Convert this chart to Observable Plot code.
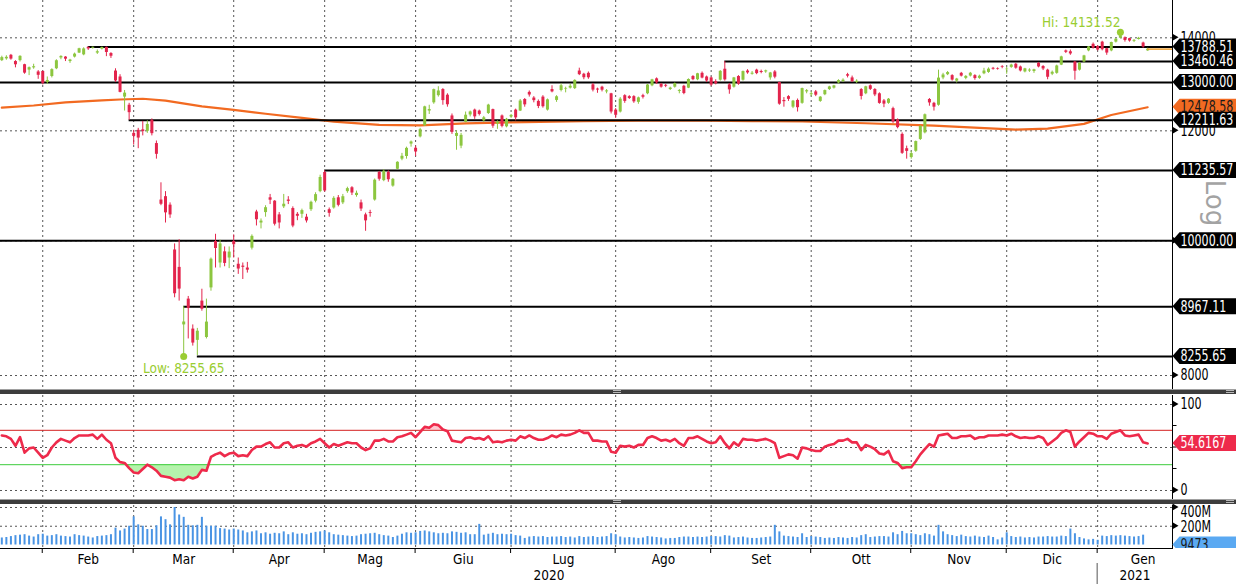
<!DOCTYPE html>
<html><head><meta charset="utf-8">
<script src="https://cdn.jsdelivr.net/npm/d3@7"></script>
<script src="https://cdn.jsdelivr.net/npm/@observablehq/plot@0.6"></script>
<style>
html,body{margin:0;padding:0;background:#fff;}
#chart{position:relative;width:1236px;height:584px;overflow:hidden;background:#fff;}
.panel{position:absolute;left:0;}
.sep{position:absolute;left:0;width:1236px;height:4px;background:#3d3d3d;border-top:1px solid #a0a0a0;}
.grip{position:absolute;width:8px;height:1px;background:#b8b8b8;}
</style></head><body>
<div id="chart">
 <div class="panel" id="main" style="top:0"></div>
 <div class="sep" style="top:389px"></div>
 <div class="panel" id="rsi" style="top:395px"></div>
 <div class="sep" style="top:499px"></div>
 <div class="panel" id="vol" style="top:505px"></div>
</div>
<script>
// ---------- DATA: daily candles [open, high, low, close] ----------
const jan20 = [[13480,13580,13460,13548],[13520,13590,13490,13555],[13600,13620,13490,13515],[13460,13480,13320,13388],[13480,13590,13450,13577],[13390,13400,13180,13204],[13270,13340,13150,13324],[13320,13400,13290,13345],[13230,13260,13070,13157],[13240,13250,12950,12982]];
const feb20 = [[13000,13120,12960,13045],[13130,13300,13100,13281],[13300,13500,13280,13478],[13540,13590,13500,13575],[13560,13570,13460,13513],[13460,13510,13420,13494],[13560,13650,13540,13627],[13650,13760,13640,13749],[13610,13770,13590,13745],[13780,13788.51,13710,13744],[13760,13786,13740,13783],[13650,13720,13620,13681],[13740,13785,13720,13778],[13780,13786,13570,13664],[13640,13660,13530,13579],[13250,13300,13000,13035],[13120,13170,12780,12790],[12690,12830,12400,12774],[12520,12560,12211.63,12367],[11950,12010,11720,11890]];
const mar20 = [[12010,12050,11650,11857],[12020,12190,11900,11985],[11990,12200,11950,12128],[12210,12240,11900,11944],[11750,11800,11450,11542],[10700,11010,10600,10625],[10760,10850,10300,10475],[10610,10650,10380,10439],[9850,9950,9100,9161],[9570,10020,9050,9232],[8700,8967.11,8255.65,8742],[9080,9120,8500,8939],[8640,8700,8400,8442],[8480,8650,8270,8610],[9050,9230,8900,8929],[8520,9080,8500,8741],[9250,9720,9200,9701],[9990,10110,9560,9874],[9640,10010,9560,9950],[9820,9900,9580,9633],[9720,9900,9550,9816],[9990,10100,9720,9936]];
const apr20 = [[9620,9720,9460,9544],[9590,9640,9380,9571],[9560,9650,9480,9526],[9880,10100,9850,10075],[10490,10520,10250,10356],[10300,10370,10200,10333],[10480,10600,10400,10565],[10740,10800,10620,10697],[10680,10690,10250,10280],[10440,10480,10200,10301],[10580,10800,10550,10626],[10700,10760,10620,10676],[10550,10580,10220,10249],[10450,10480,10340,10416],[10450,10540,10380,10514],[10400,10450,10300,10336],[10530,10680,10500,10660],[10680,10830,10650,10796],[10850,11150,10830,11108],[11200,11235.57,10840,10862]];
const may20 = [[10530,10560,10400,10467],[10560,10760,10540,10730],[10740,10780,10580,10607],[10650,10800,10620,10759],[10850,10930,10820,10904],[10920,10940,10780,10825],[10780,10860,10750,10820],[10650,10700,10500,10542],[10440,10470,10160,10337],[10480,10520,10400,10465],[10700,11080,10680,11058],[11200,11220,11040,11075],[11050,11250,11030,11223],[11200,11230,11020,11066],[10950,11090,10930,11074],[11260,11400,11250,11391],[11450,11560,11420,11505],[11500,11680,11450,11657],[11740,11800,11680,11781],[11660,11700,11500,11587]];
const jun20 = [[11880,12050,11860,12022],[12100,12500,12090,12487],[12400,12520,12330,12431],[12570,12860,12540,12848],[12720,12910,12690,12820],[12850,12870,12520,12617],[12730,12760,12480,12530],[12300,12340,11930,11970],[11890,12000,11620,11949],[11700,11950,11650,11911],[12170,12380,12160,12315],[12320,12400,12280,12382],[12420,12440,12230,12281],[12400,12420,12300,12331],[12200,12290,12170,12262],[12350,12540,12330,12523],[12430,12440,12050,12093],[12140,12200,12030,12177],[12300,12320,12060,12089],[12080,12250,12060,12232],[12280,12330,12250,12311]];
const jul20 = [[12420,12440,12200,12260],[12400,12640,12390,12608],[12640,12660,12480,12528],[12790,12820,12690,12734],[12670,12700,12570,12616],[12600,12630,12450,12495],[12690,12720,12460,12489],[12420,12650,12400,12633],[12850,12930,12780,12800],[12620,12720,12580,12697],[12830,12970,12800,12931],[12860,12900,12780,12874],[12880,12960,12860,12920],[12870,13060,12850,13046],[13250,13313,13150,13171],[13180,13200,13060,13104],[13200,13230,13070,13103],[12950,12980,12800,12838],[12860,12880,12770,12839],[12900,12920,12800,12836],[12800,12850,12760,12822],[12760,12770,12340,12380],[12420,12450,12250,12313]];
const aug20 = [[12380,12680,12360,12647],[12720,12740,12560,12600],[12700,12720,12640,12660],[12700,12720,12560,12591],[12580,12690,12540,12674],[12720,12750,12650,12687],[12760,12960,12740,12947],[12930,13070,12910,13058],[13080,13100,12960,12993],[12960,12980,12880,12901],[12940,12960,12890,12920],[12850,12900,12830,12881],[12900,12990,12880,12977],[12810,12850,12760,12830],[12920,12940,12740,12765],[12880,13080,12870,13066],[13130,13150,13040,13062],[13060,13200,13040,13190],[13200,13230,13080,13097],[13120,13140,13000,13033],[13100,13120,12920,12945]];
const sep20 = [[13020,13060,12950,12974],[13050,13260,13030,13243],[13290,13460.46,13030,13057],[12950,12980,12750,12843],[12900,13110,12880,13100],[13130,13150,12940,12968],[13050,13250,13030,13238],[13250,13280,13180,13209],[13180,13240,13160,13203],[13270,13290,13170,13194],[13240,13270,13190,13218],[13230,13270,13200,13255],[13100,13220,13050,13208],[13230,13260,13080,13116],[13000,13010,12520,12542],[12620,12680,12480,12594],[12700,12720,12600,12643],[12480,12620,12450,12606],[12620,12650,12380,12469],[12560,12880,12540,12871],[12800,12850,12760,12826],[12740,12800,12700,12761]];
const oct20 = [[12800,12830,12700,12730],[12600,12700,12580,12689],[12740,12840,12720,12828],[12850,12920,12830,12906],[12880,12940,12860,12928],[12990,13060,12970,13042],[13020,13080,13000,13051],[13170,13200,13100,13138],[13100,13140,13000,13018],[13000,13060,12980,13028],[12850,12870,12630,12704],[12760,12920,12740,12909],[12930,12950,12830,12854],[12850,12870,12700,12736],[12760,12780,12540,12558],[12610,12640,12470,12543],[12560,12660,12540,12646],[12450,12480,12150,12178],[12220,12240,12040,12064],[11930,11960,11540,11561],[11650,11700,11450,11598],[11480,11600,11450,11556]];
const nov20 = [[11600,11800,11580,11789],[11830,12100,11810,12089],[11960,12340,11940,12324],[12640,12660,12500,12568],[12560,12580,12400,12480],[12520,13270,12500,13096],[13100,13200,13060,13164],[13170,13240,13150,13217],[13150,13170,13030,13053],[13030,13090,12990,13076],[13200,13220,13120,13139],[13090,13150,13060,13133],[13140,13220,13120,13202],[13150,13170,13050,13086],[13090,13160,13070,13137],[13190,13310,13170,13250],[13220,13320,13200,13292],[13310,13330,13270,13290],[13300,13320,13270,13286],[13350,13370,13300,13335],[13280,13330,13180,13291]];
const dec20 = [[13330,13400,13310,13382],[13400,13420,13290,13313],[13340,13360,13230,13252],[13230,13310,13210,13299],[13250,13300,13220,13271],[13240,13290,13200,13278],[13420,13440,13320,13340],[13350,13370,13260,13296],[13270,13290,13060,13114],[13180,13250,13150,13223],[13200,13380,13180,13362],[13380,13580,13370,13565],[13700,13720,13640,13667],[13680,13720,13600,13631],[13450,13460,13050,13246],[13270,13440,13250,13418],[13450,13600,13430,13587],[13700,13800,13680,13790],[13850,13880,13740,13761],[13800,13820,13700,13719]];
const jan21 = [[13900,13920,13700,13726],[13750,13760,13600,13651],[13700,13900,13680,13892],[13900,13980,13880,13968],[13990,14131.52,13980,14050],[14000,14020,13900,13937],[13980,13990,13900,13925],[13920,13960,13890,13940],[13960,14010,13950,13989],[13880,13900,13760,13788],[13700,13760,13690,13740]];

// month names (Italian) for Feb 2020 .. Jan 2021
const monthNames = ["Feb","Mar","Apr","Mag","Giu","Lug","Ago","Set","Ott","Nov","Dic","Gen"];
const yearNames = ["2020","2021"];

// moving average (orange) [trading-day index, value]
const maPoints = [[0,12470],[7,12515],[14,12580],[22,12620],[26,12640],[31,12655],[36,12615],[44,12495],[51,12425],[58,12345],[66,12260],[73,12185],[83,12120],[92,12108],[102,12150],[115,12175],[128,12195],[140,12205],[155,12205],[165,12195],[176,12187],[190,12152],[205,12106],[215,12060],[223,12026],[230,12045],[238,12140],[244,12320],[252,12478.58]];

// horizontal support / resistance levels and the day index they start from (null = whole width)
const levelValues = [13788.51, 13460.46, 13000.00, 12211.63, 11235.57, 10000.00, 8967.11, 8255.65];
const levelStart  = [19, 159, null, 28, 71, null, 40, 43];
const priceTicks = [8000, 10000, 12000, 14000];

// RSI (14) daily
const rsi = [
 64,63,60,52,62,44,49,50,44,38,
 41,50,56,60,58,56,61,64,64,64,65,60,65,59,55,38,33,32,26,21,
 20,25,30,27,23,17,16,15,12,13,12,16,14,16,24,23,39,42,44,40,43,44,
 40,41,40,47,51,51,54,56,50,50,55,56,50,52,53,51,55,57,60,55,
 50,54,52,54,56,55,55,50,47,49,58,58,60,57,57,62,63,65,67,62,
 68,74,73,77,76,71,69,58,57,56,61,62,60,61,59,63,56,57,56,58,59,
 58,63,61,64,61,59,59,61,64,62,65,64,65,67,70,67,67,58,58,57,57,45,44,
 52,51,52,50,53,53,61,63,61,58,59,57,60,55,52,61,61,63,60,57,55,
 56,63,55,49,56,52,60,59,59,58,59,60,58,55,38,40,42,41,37,50,49,47,
 46,46,51,53,54,58,58,60,56,56,47,53,51,48,43,42,46,34,32,26,27,27,
 34,42,48,54,51,64,65,66,61,61,63,63,64,60,62,62,64,64,64,65,64,
 66,63,61,62,61,61,63,61,53,57,61,67,70,68,51,57,62,67,66,63,
 63,60,66,68,70,64,63,64,65,56,54.6167];
const rsiTicks = [0, 50, 100];
const rsiBands = [70, 30];

// volume (millions of shares) daily
const volume = [
 75,80,90,100,105,110,95,85,110,115,
 95,100,110,95,90,85,110,100,95,85,75,90,95,100,110,180,150,170,200,300,
 215,200,165,165,205,300,270,215,400,320,295,210,205,210,295,200,200,200,175,170,160,170,
 160,150,130,140,150,120,130,115,125,120,140,110,130,115,120,110,125,135,140,150,
 130,110,105,100,95,90,95,110,115,120,125,110,100,95,80,95,115,130,125,130,
 145,150,140,130,120,125,120,140,135,125,130,110,110,220,105,115,125,110,115,110,115,
 100,95,70,85,90,85,90,80,85,85,90,80,85,75,90,80,85,90,80,85,90,120,110,
 85,75,80,75,70,75,90,85,80,75,65,70,70,80,85,85,80,85,80,85,90,
 90,85,100,95,75,80,85,75,70,70,75,80,85,210,140,95,90,85,80,120,80,90,
 85,80,70,75,70,80,75,70,80,75,100,110,80,85,90,90,85,130,110,145,120,120,
 110,100,120,110,95,210,140,110,100,90,105,90,85,95,85,80,95,80,55,75,130,
 90,80,85,75,80,75,85,85,90,85,85,95,90,170,120,80,65,55,60,50,
 95,90,100,95,100,95,90,85,90,105,0.009473];
const volTicks = [200, 400];
const lastVolumeLabel = "9473";

// ---------- BUILD ----------
const FONT = '"DejaVu Sans Condensed","Liberation Sans Narrow",sans-serif';
const GREEN = "#8cc63f", RED = "#e3244c", GRID = "#555", ORANGE = "#f26a21";
const blocks = [jan20,feb20,mar20,apr20,may20,jun20,jul20,aug20,sep20,oct20,nov20,dec20,jan21];
const candles = blocks.flat().map(([o,h,l,c], i) => ({i, o, h, l, c, up: c >= o}));
let acc = 0;
const starts = blocks.map(b => { const s = acc; acc += b.length; return s; });
const gridIdx = starts.slice(1).map(s => s - 1);
const xDom = [-0.29, 257.46];
const labelData = gridIdx.map((g, k) => ({x: k < gridIdx.length - 1 ? (g + gridIdx[k+1]) / 2 : g + 10, t: monthNames[k]}));
const yearBreak = gridIdx[gridIdx.length - 1];
const yearData = [{x: (xDom[0] + yearBreak) / 2, t: yearNames[0]}, {x: (yearBreak + xDom[1]) / 2, t: yearNames[1]}];
const levels = levelValues.map((v, k) => ({v, from: levelStart[k] == null ? xDom[0] : levelStart[k]}));
const last = candles[candles.length - 1];
const hiC = candles.reduce((a, b) => b.h > a.h ? b : a);
const loC = candles.reduce((a, b) => b.l < a.l ? b : a);
const rsiData = rsi.map((v, i) => ({i, v}));
const volData = volume.map((v, i) => ({i, v}));
const dashed = {stroke: GRID, strokeDasharray: "2,3", strokeWidth: 1};
const base = {width: 1236, marginLeft: 0, marginRight: 64, marginTop: 0,
  style: {fontFamily: FONT, fontSize: "14px", color: "#000", background: "transparent", overflow: "visible"}};
const xOpt = {type: "linear", domain: xDom, axis: null};

const mainPlot = Plot.plot({...base, height: 390, marginBottom: 0,
  x: xOpt,
  y: {type: "log", domain: [7804, 14893], axis: null},
  marks: [
    Plot.ruleX(gridIdx, dashed),
    Plot.ruleY(priceTicks, dashed),
    Plot.line(maPoints, {x: d => d[0], y: d => d[1], stroke: ORANGE, strokeWidth: 2.2}),
    Plot.ruleY(levels, {y: "v", x1: "from", x2: xDom[1], stroke: "#000", strokeWidth: 2}),
    Plot.ruleX(candles.filter(d => d.up), {x: "i", y1: "l", y2: "h", stroke: GREEN, strokeWidth: 1}),
    Plot.ruleX(candles.filter(d => !d.up), {x: "i", y1: "l", y2: "h", stroke: RED, strokeWidth: 1}),
    Plot.ruleX(candles.filter(d => d.up), {x: "i", y1: "o", y2: "c", stroke: GREEN, strokeWidth: 3}),
    Plot.ruleX(candles.filter(d => !d.up), {x: "i", y1: "o", y2: "c", stroke: RED, strokeWidth: 3}),
    Plot.ruleY([last], {y: "c", x1: "i", x2: xDom[1], stroke: "#f0a030", strokeWidth: 1.5}),
    Plot.dot([hiC], {x: "i", y: "h", r: 3.5, fill: "#9acd32"}),
    Plot.dot([loC], {x: "i", y: "l", r: 3.5, fill: "#9acd32"}),
    Plot.text([hiC], {x: "i", y: "h", text: d => "Hi: " + d.h.toFixed(2), textAnchor: "end", dy: -10, fill: "#9acd32", fontSize: 13.5}),
    Plot.text([loC], {x: "i", y: "l", text: d => "Low: " + d.l.toFixed(2), dy: 12, fill: "#9acd32", fontSize: 13.5}),
    Plot.frame({anchor: "right", stroke: "#000"})
  ]
});
document.getElementById("main").appendChild(mainPlot);

const rsiPlot = Plot.plot({...base, height: 104, marginBottom: 0,
  x: xOpt,
  y: {domain: [-10.47, 110.47], axis: null},
  marks: [
    Plot.ruleX(gridIdx, dashed),
    Plot.ruleY(rsiTicks, dashed),
    Plot.areaY(rsiData, {x: "i", y1: rsiBands[1], y2: d => Math.min(d.v, rsiBands[1]), fill: "#b5f3ac"}),
    Plot.areaY(rsiData, {x: "i", y1: rsiBands[0], y2: d => Math.max(d.v, rsiBands[0]), fill: "#ffc6cf"}),
    Plot.ruleY([rsiBands[0]], {stroke: "#d42020", strokeWidth: 1}),
    Plot.ruleY([rsiBands[1]], {stroke: "#3ccc3c", strokeWidth: 1}),
    Plot.line(rsiData, {x: "i", y: "v", stroke: "#ee2a4b", strokeWidth: 2.6}),
    Plot.frame({anchor: "right", stroke: "#000"})
  ]
});
document.getElementById("rsi").appendChild(rsiPlot);

const volPlot = Plot.plot({...base, height: 79, marginBottom: 36,
  x: xOpt,
  y: {domain: [-37.3, 421.3], axis: null},
  marks: [
    Plot.ruleX(gridIdx, dashed),
    Plot.ruleY(volTicks, dashed),
    Plot.ruleX(volData, {x: "i", y1: 0, y2: "v", stroke: "#4a94e4", strokeWidth: 2}),
    Plot.frame({anchor: "right", stroke: "#000"}),
    Plot.frame({anchor: "bottom", stroke: "#000"}),
    Plot.text(labelData, {x: "x", text: "t", frameAnchor: "bottom", lineAnchor: "middle", dy: 11, fontSize: 13.5}),
    Plot.text(yearData, {x: "x", text: "t", frameAnchor: "bottom", lineAnchor: "middle", dy: 27, fontSize: 13.5})
  ]
});
document.getElementById("vol").appendChild(volPlot);

// ---------- right-hand tags and ticks (positions from the plots' own scales) ----------
const X0 = 1172.5, XR = 1236, SQ = 0.82;
function arrowTick(svg, cy) {
  svg.append("polygon").attr("points", `${X0},${cy-3.5} ${X0+6},${cy} ${X0},${cy+3.5}`).attr("fill", "#000");
}
function narrowText(svg, x, cy, t, fill, size) {
  svg.append("text").attr("transform", `translate(${x},${cy}) scale(${SQ},1)`).attr("dy", "0.36em")
    .attr("fill", fill).attr("text-anchor", "start").attr("font-family", FONT).attr("font-size", size).text(t);
}
function tickLabel(svg, cy, t) { narrowText(svg, X0 + 8, cy, t, "#000", 15); }
function tag(svg, cy, t, bg, fg) {
  const h = 8;
  svg.append("polygon").attr("points", `${X0},${cy} ${X0+7},${cy-h} ${XR},${cy-h} ${XR},${cy+h} ${X0+7},${cy+h}`).attr("fill", bg);
  narrowText(svg, X0 + 8, cy, t, fg, 15);
}

{
  const svg = d3.select(mainPlot), y = mainPlot.scale("y");
  for (const v of priceTicks) {
    arrowTick(svg, y.apply(v));
    // a tick value that coincides with a level tag is fully covered by it, so only its arrow is drawn
    if (!levelValues.includes(v)) tickLabel(svg, y.apply(v), String(v));
  }
  svg.append("text").attr("transform", `translate(1206,203) rotate(90)`).attr("text-anchor", "middle")
    .attr("font-family", "DejaVu Sans, sans-serif").attr("font-size", 26).attr("fill", "#a3a3a3").text("Log");
  tag(svg, y.apply(maPoints[maPoints.length - 1][1]), maPoints[maPoints.length - 1][1].toFixed(2), ORANGE, "#1a1a1a");
  for (const l of levels) tag(svg, y.apply(l.v), l.v.toFixed(2), "#000", "#fff");
}
{
  const svg = d3.select(rsiPlot), y = rsiPlot.scale("y");
  for (const v of [25, 50, 75]) svg.append("line").attr("x1", X0).attr("x2", X0 + 4).attr("y1", y.apply(v)).attr("y2", y.apply(v)).attr("stroke", "#000");
  for (const v of [0, 100]) { arrowTick(svg, y.apply(v)); tickLabel(svg, y.apply(v), String(v)); }
  tag(svg, y.apply(rsi[rsi.length - 1]), rsi[rsi.length - 1].toFixed(4), "#ee2a4b", "#fff");
}
{
  const svg = d3.select(volPlot), y = volPlot.scale("y"), x = volPlot.scale("x");
  for (const v of volTicks) arrowTick(svg, y.apply(v));
  tickLabel(svg, y.apply(volTicks[1]) + 5, volTicks[1] + "M");
  tickLabel(svg, y.apply(volTicks[0]) + 1, volTicks[0] + "M");
  svg.append("clipPath").attr("id", "vclip").append("rect").attr("x", 0).attr("y", 0).attr("width", 1236).attr("height", 43);
  const g = svg.append("g").attr("clip-path", "url(#vclip)");
  tag(g, y.apply(0), lastVolumeLabel, "#5aa9f2", "#1a1a1a");
  const yb = 43;
  for (const gi of gridIdx) svg.append("line").attr("x1", x.apply(gi)).attr("x2", x.apply(gi)).attr("y1", yb).attr("y2", yb + 5).attr("stroke", "#000");
  svg.append("line").attr("x1", x.apply(yearBreak)).attr("x2", x.apply(yearBreak)).attr("y1", yb + 15).attr("y2", 79).attr("stroke", "#555");
}
// separator grips
for (const top of [390, 500]) for (const left of [613, 1226]) for (const k of [0, 2]) {
  const d = document.createElement("div"); d.className = "grip";
  d.style.top = (top + k) + "px"; d.style.left = left + "px";
  document.getElementById("chart").appendChild(d);
}
</script>
</body></html>
